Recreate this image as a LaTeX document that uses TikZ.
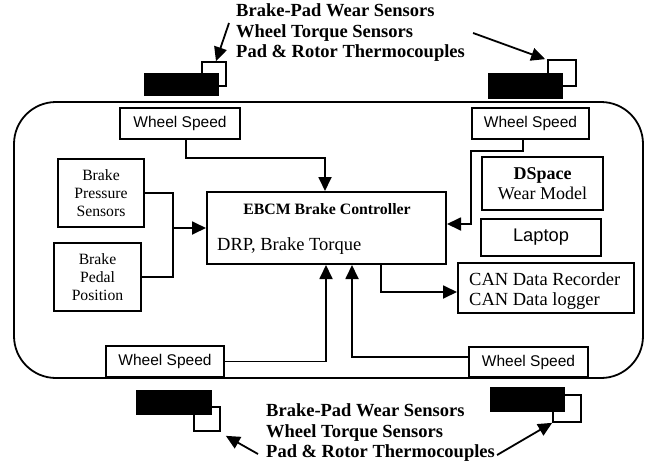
\documentclass[tikz,border=0pt]{standalone}
\usepackage{fontspec}
\setmainfont{Liberation Serif}
\newfontfamily\arialf{Liberation Sans}
\usetikzlibrary{arrows.meta}
\begin{document}
\begin{tikzpicture}[x=1pt,y=-1pt,
  box/.style={draw, line width=2pt, fill=white, inner sep=0pt},
  wsbox/.style={box, font=\arialf\fontsize{15.5}{18}\selectfont, minimum height=31pt},
  serifbox/.style={box, align=center, font=\fontsize{15.7}{18}\selectfont},
  arr/.style={line width=1.8pt, -{Triangle[length=14pt,width=13pt]}},
  conn/.style={line width=1.8pt},
  sq/.style={draw, line width=1.7pt, fill=white, inner sep=0pt, minimum width=24pt, minimum height=24pt},
  tyre/.style={fill=black},
  note/.style={align=left, inner sep=0pt, font=\bfseries\fontsize{18.5}{20.5}\selectfont}
]
\useasboundingbox (0,0) rectangle (650,466);

% vehicle outline
\draw[rounded corners=42pt, line width=1.8pt] (14,102) rectangle (643,378);

% sensor notes
\node[note, anchor=west] (topt) at (236,33) {Brake-Pad Wear Sensors\\Wheel Torque Sensors\\Pad \& Rotor Thermocouples};
\node[note, anchor=west] (bott) at (266,433) {Brake-Pad Wear Sensors\\Wheel Torque Sensors\\Pad \& Rotor Thermocouples};

% tyres with sensor squares
\node[sq, minimum width=24pt, minimum height=24pt] (sqtl) at (214,74) {};
\fill[tyre] (144,73) rectangle (219,96);
\node[sq, minimum width=28pt, minimum height=26pt] (sqtr) at (562,73) {};
\fill[tyre] (488,73) rectangle (563,99);
\node[sq, minimum width=26pt, minimum height=24pt] (sqbl) at (207,419) {};
\fill[tyre] (136,390) rectangle (212,415);
\node[sq, minimum width=28pt, minimum height=27pt] (sqbr) at (567,408.5) {};
\fill[tyre] (490,387) rectangle (565,412);

% boxes
\node[wsbox, minimum width=120pt] (ws1) at (180,123.5) {Wheel Speed};
\node[wsbox, minimum width=117pt] (ws2) at (530.5,123.5) {Wheel Speed};
\node[wsbox, minimum width=118pt] (ws3) at (165,361.5) {Wheel Speed};
\node[wsbox, minimum width=119pt, minimum height=30pt] (ws4) at (528.5,362) {Wheel Speed};

\node[box, minimum width=239pt, minimum height=72pt] (ebcm) at (326.5,228) {};
\node[font=\bfseries\fontsize{15.8}{18}\selectfont, inner sep=0pt] (ebcmt) at (327,209) {EBCM Brake Controller};
\node[font=\fontsize{18.5}{20}\selectfont, inner sep=0pt, anchor=west] (drp) at (217,246) {DRP, Brake Torque};

\node[serifbox, minimum width=86pt, minimum height=68pt] (bps) at (101,193) {Brake\\Pressure\\Sensors};
\node[serifbox, minimum width=87pt, minimum height=68pt] (bpp) at (97.5,277) {Brake\\Pedal\\Position};

\node[box, align=center, minimum width=121pt, minimum height=53pt, font=\fontsize{18}{20}\selectfont] (dsp) at (542.5,183.5) {\textbf{DSpace}\\Wear Model};
\node[box, minimum width=120pt, minimum height=37pt, font=\arialf\fontsize{18.3}{20}\selectfont] (lap) at (541,237.5) {Laptop};
\node[box, minimum width=176pt, minimum height=50pt] (can) at (546,288) {};
\node[align=left, inner sep=0pt, anchor=west, font=\fontsize{18.5}{20}\selectfont] (cant) at (469,291) {CAN Data Recorder\\CAN Data logger};

% connectors
\coordinate (j1) at (325,158);
\draw[arr] ([xshift=6pt]ws1.south) |- (j1) -- (j1 |- ebcm.north);
\coordinate (j2) at (471,151);
\draw[arr] ([xshift=-7.5pt]ws2.south) |- (j2) |- ([yshift=4pt]ebcm.east);
\coordinate (m) at (173,228);
\draw[conn] (bps.east) -| (m) |- (bpp.east);
\draw[arr] (m) -- (ebcm.west);
\draw[arr] ([xshift=54.5pt]ebcm.south) |- ([yshift=-4pt]can.west);
\draw[arr] (ws3.east) -| ([xshift=-0.5pt]ebcm.south);
\draw[arr] ([yshift=5pt]ws4.west) -| ([xshift=25.5pt]ebcm.south);

% note arrows
\draw[arr] ([xshift=-7pt,yshift=10pt]topt.west) -- ([xshift=2pt]sqtl.north);
\draw[arr] ([xshift=8pt]topt.east) -- ([xshift=-2pt]sqtr.north west);
\draw[arr] ([xshift=-8pt,yshift=-21pt]bott.west) -- ([shift={(5pt,-4pt)}]sqbl.south east);
\draw[arr] ([xshift=2pt,yshift=-22pt]bott.east) -- (sqbr.south west);
\end{tikzpicture}
\end{document}
